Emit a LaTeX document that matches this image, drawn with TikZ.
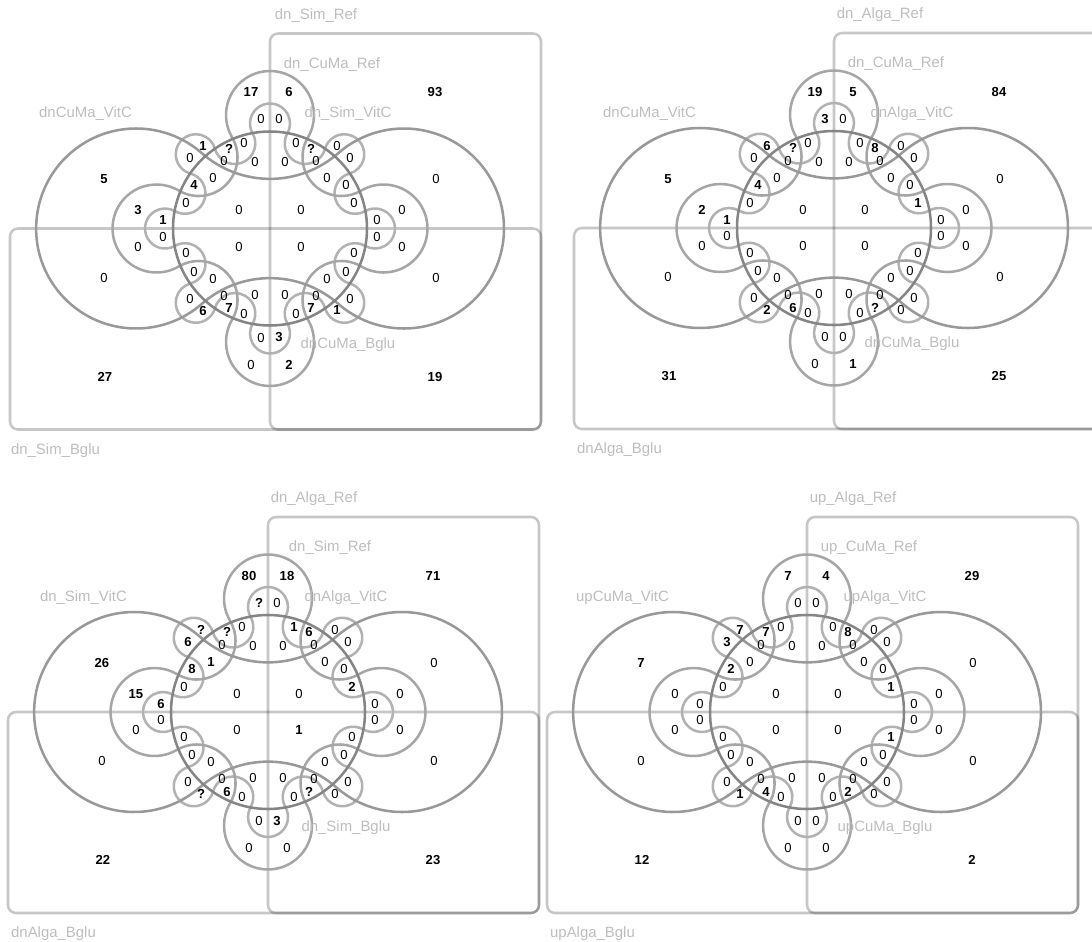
\documentclass[tikz,border=0pt]{standalone}
\usepackage{fontspec}
\setmainfont{Liberation Sans}
\setsansfont{Liberation Sans}
\tikzset{
  setline/.style  = {line width=1.9pt},
  rectset/.style  = {setline, draw=black, draw opacity=0.22, rounded corners=6},
  circset/.style  = {setline, draw=black!48},
  lobeset/.style  = {setline, draw=black!40},
  cogset/.style   = {setline, draw=black!35},
  teethset/.style = {setline, draw=black!30},
  setname/.style  = {text=black!26, font=\fontsize{11.2}{13}\selectfont, inner sep=0pt},
  count/.style    = {font=\fontsize{9.8}{11}\selectfont, inner sep=0pt}
}
% label positions of one quadrant (magnitudes, px)
\def\qx{{165,19,166,9,67,41,26,80,46,15,57,76,84,132,31,107}}
\def\qyU{{136,136,49,109,82,80,85,70,67,66,50,43,25,18,18,8}}
\def\qyL{{148,136,49,109,82,80,85,70,67,66,50,43,25,18,18,8}}
\def\zerostr{0}
\newcommand\cnt[1]{\edef\cnttmp{#1}\ifx\cnttmp\zerostr 0\else\textbf{\cnttmp}\fi}
% chain of tangent circles: style, lobes, dist A, radius A, dist B
\newcommand\cogwheel[5]{%
  \pgfmathsetmacro\cogd{180/#2}%
  \pgfmathsetmacro\cogpsi{atan2(#5*sin(\cogd), #5*cos(\cogd)-#3)}%
  \pgfmathsetmacro\cogrb{10*veclen((#5*cos(\cogd)-#3)/10, #5*sin(\cogd)/10)-#4}%
  \pgfmathsetmacro\cogsx{#3+#4*cos(\cogpsi)}%
  \pgfmathsetmacro\cogsy{-#4*sin(\cogpsi)}%
  \draw[#1] (\cogsx,\cogsy) \foreach \j in {1,...,#2}{
    arc[start angle={(2*\j-2)*\cogd-\cogpsi}, end angle={(2*\j-2)*\cogd+\cogpsi}, radius=#4]
    arc[start angle={(2*\j-2)*\cogd+\cogpsi-180}, end angle={2*\j*\cogd-\cogpsi-180}, radius=\cogrb]
  } -- cycle;
}
\newcommand\vennsets{%
  \draw[rectset] (0,-195) rectangle (271,201);
  \draw[rectset] (-260,0) rectangle (271,201);
  \cogwheel{teethset}{8}{105}{20}{92}
  \cogwheel{cogset}{4}{113.5}{44}{100.9}
  \cogwheel{lobeset}{2}{134}{100}{153}
  \draw[circset] (0,0) circle[radius=97];
}
\newcommand\setnames[6]{%
  \node[setname] (refname)  at (46,-213)     {#1};
  \node[setname] (lobename) at (62,-164)     {#2};
  \node[setname] (leftname) at (-184.5,-114.5) {#3};
  \node[setname] (rightname) at (78,-114.5)  {#4};
  \node[setname] (lowname)  at (78,116)      {#5};
  \node[setname] (bottomname) at (-214.5,222) {#6};
}
% sx, sy, y array, values q1..q16
\newcommand\quadvals[4]{%
  \foreach \v [count=\i from 0] in {#4} {
    \pgfmathsetmacro\px{#1*\qx[\i]}
    \pgfmathsetmacro\py{#2*#3[\i]}
    \node[count] at (\px,\py) {\cnt{\v}};
  }
}

\begin{document}
\begin{tikzpicture}[x=0.75pt, y=-0.75pt]
  \useasboundingbox (0,0) rectangle (1092,942);
  \clip (0,0) rectangle (1092,942);

  % top left
  \begin{scope}[shift={(270,228.5)}]
    \vennsets
    \setnames{dn\_Sim\_Ref}{dn\_CuMa\_Ref}{dnCuMa\_VitC}{dn\_Sim\_VitC}{dnCuMa\_Bglu}{dn\_Sim\_Bglu}
    \quadvals{-1}{-1}{\qyU}{{},17,5,0,1,?,0,0,0,0,0,4,0,3,0,1}
    \quadvals{1}{-1}{\qyU}{93,6,0,0,0,?,0,0,0,0,0,0,0,0,0,0}
    \quadvals{-1}{1}{\qyL}{27,0,0,0,6,7,0,0,0,0,0,0,0,0,0,0}
    \quadvals{1}{1}{\qyL}{19,2,0,3,1,7,0,0,0,0,0,0,0,0,0,0}
  \end{scope}

  % top right
  \begin{scope}[shift={(834,228)}]
    \vennsets
    \setnames{dn\_Alga\_Ref}{dn\_CuMa\_Ref}{dnCuMa\_VitC}{dnAlga\_VitC}{dnCuMa\_Bglu}{dnAlga\_Bglu}
    \quadvals{-1}{-1}{\qyU}{{},19,5,3,6,?,0,0,0,0,0,4,0,2,0,1}
    \quadvals{1}{-1}{\qyU}{84,5,0,0,0,8,0,0,0,0,0,0,1,0,0,0}
    \quadvals{-1}{1}{\qyL}{31,0,0,0,2,6,0,0,0,0,0,0,0,0,0,0}
    \quadvals{1}{1}{\qyL}{25,1,0,0,0,?,0,0,0,0,0,0,0,0,0,0}
  \end{scope}

  % bottom left
  \begin{scope}[shift={(268,712)}]
    \vennsets
    \setnames{dn\_Alga\_Ref}{dn\_Sim\_Ref}{dn\_Sim\_VitC}{dnAlga\_VitC}{dn\_Sim\_Bglu}{dnAlga\_Bglu}
    \quadvals{-1}{-1}{\qyU}{{},80,26,?,?,?,0,6,0,0,1,8,0,15,0,6}
    \quadvals{1}{-1}{\qyU}{71,18,0,0,0,6,1,0,0,0,0,0,2,0,0,0}
    \quadvals{-1}{1}{\qyL}{22,0,0,0,?,6,0,0,0,0,0,0,0,0,0,0}
    \quadvals{1}{1}{\qyL}{23,0,0,3,0,?,0,0,0,0,0,0,0,0,1,0}
  \end{scope}

  % bottom right
  \begin{scope}[shift={(807,712)}]
    \vennsets
    \setnames{up\_Alga\_Ref}{up\_CuMa\_Ref}{upCuMa\_VitC}{upAlga\_VitC}{upCuMa\_Bglu}{upAlga\_Bglu}
    \quadvals{-1}{-1}{\qyU}{{},7,7,0,7,7,0,3,0,0,0,2,0,0,0,0}
    \quadvals{1}{-1}{\qyU}{29,4,0,0,0,8,0,0,0,0,0,0,1,0,0,0}
    \quadvals{-1}{1}{\qyL}{12,0,0,0,1,4,0,0,0,0,0,0,0,0,0,0}
    \quadvals{1}{1}{\qyL}{2,0,0,0,0,2,0,0,0,0,0,0,1,0,0,0}
  \end{scope}
\end{tikzpicture}
\end{document}
